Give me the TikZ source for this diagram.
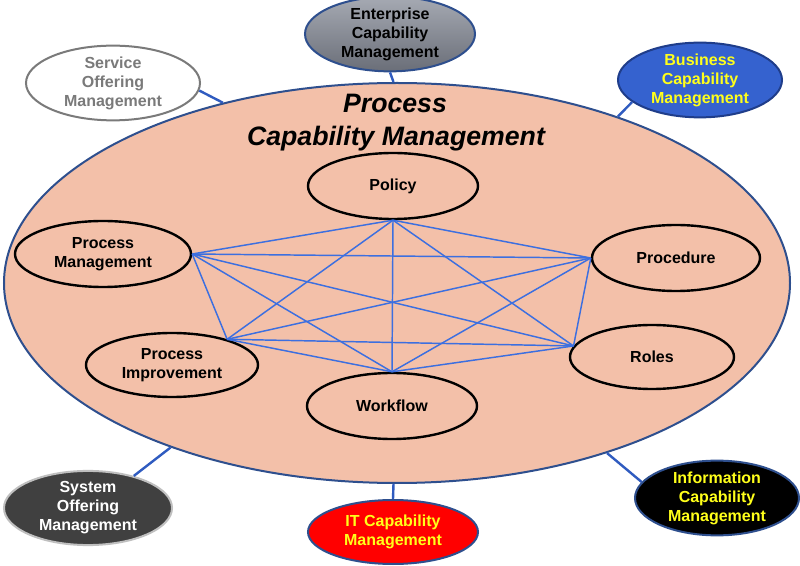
\documentclass[tikz,border=0pt]{standalone}
\usepackage{fontspec}
\setmainfont{Liberation Sans}
\usetikzlibrary{shapes.geometric}
\definecolor{bigfill}{HTML}{F3C0A9}
\definecolor{bigdraw}{HTML}{2E4F8E}
\definecolor{linkblue}{HTML}{3C6FE0}
\definecolor{connblue}{HTML}{2F5BC0}
\definecolor{entlight}{HTML}{A6AAB3}
\definecolor{entdark}{HTML}{6A6E78}
\definecolor{bizfill}{HTML}{3562CF}
\definecolor{bizdraw}{HTML}{1F3D8A}
\definecolor{txtyellow}{HTML}{FFFF1A}
\definecolor{sysfill}{HTML}{404040}
\definecolor{sysdraw}{HTML}{BFBFBF}
\definecolor{svcgray}{HTML}{7A7A7A}
\begin{document}
\begin{tikzpicture}[x=0.75pt,y=-0.75pt,
  oval/.style={ellipse, inner sep=0pt, align=center,
    font=\bfseries\fontsize{12}{14.2}\selectfont},
  sz/.style 2 args={minimum width=#1*1.5pt, minimum height=#2*1.5pt},
  inner/.style={oval, draw=black, line width=1.8pt},
  outer/.style={oval, line width=1.5pt},
  link/.style={draw=linkblue, line width=1.1pt},
  conn/.style={draw=connblue, line width=1.8pt},
  titletext/.style={font=\bfseries\itshape\fontsize{20}{24}\selectfont, inner sep=0pt}]
\useasboundingbox (0,0) rectangle (800,566);
\fill[white] (0,0) rectangle (800,566);

% big ellipse
\node[ellipse, inner sep=0pt, sz={393}{200}, fill=bigfill, draw=bigdraw, line width=1.5pt] (big) at (397,283) {};
\node[titletext, anchor=base] (t1) at (395,113) {Process};
\node[titletext, anchor=base] (t2) at (396,146) {Capability Management};

% outer ellipses
\node[outer, sz={85}{32}, top color=entlight, bottom color=entdark, draw=bigdraw] (ent) at (390,34) {Enterprise\\Capability\\Management};
\node[outer, sz={87}{32}, fill=white, draw=svcgray, text=svcgray] (svc) at (113,83) {Service\\Offering\\Management};
\node[outer, sz={82}{32}, fill=bizfill, draw=bizdraw, text=txtyellow] (biz) at (700,80) {Business\\Capability\\Management};
\node[outer, sz={84}{36}, fill=sysfill, draw=sysdraw, text=white] (sys) at (88,508) {System\\Offering\\Management};
\node[outer, sz={85}{32}, fill=red, draw=bigdraw, text=txtyellow] (it) at (393,532) {IT Capability\\Management};
\node[outer, sz={82}{33}, fill=black, draw=bigdraw, text=txtyellow] (info) at (717,498) {Information\\Capability\\Management};

% connectors outer -> big
\draw[conn] (ent.south) -- (big.91);
\draw[conn] (svc.355) -- (big.134.5);
\draw[conn] (biz.198) -- (big.37);
\draw[conn] (sys.35) -- (big.216);
\draw[conn] (it.north) -- (big.269);
\draw[conn] (info.168) -- (big.321);

% inner ellipses
\node[inner, sz={85}{33}] (pol) at (393,186) {Policy};
\node[inner, sz={88}{33}] (pm) at (103,254) {Process\\Management};
\node[inner, sz={84}{33}] (proc) at (676,258) {Procedure};
\node[inner, sz={86}{32}] (pi) at (172,365) {Process\\Improvement};
\node[inner, sz={82}{32}] (rol) at (652,357) {Roles};
\node[inner, sz={85}{33}] (wf) at (392,406) {Workflow};

% complete graph
\coordinate (cpol) at (pol.south);
\coordinate (cpm) at (pm.east);
\coordinate (cproc) at (proc.west);
\coordinate (cpi) at (pi.25);
\coordinate (crol) at (rol.172);
\coordinate (cwf) at (wf.north);
\draw[link] (cpol) -- (cpm);
\draw[link] (cpol) -- (cproc);
\draw[link] (cpol) -- (cpi);
\draw[link] (cpol) -- (crol);
\draw[link] (cpol) -- (cwf);
\draw[link] (cpm) -- (cproc);
\draw[link] (cpm) -- (cpi);
\draw[link] (cpm) -- (crol);
\draw[link] (cpm) -- (cwf);
\draw[link] (cproc) -- (cpi);
\draw[link] (cproc) -- (crol);
\draw[link] (cproc) -- (cwf);
\draw[link] (cpi) -- (crol);
\draw[link] (cpi) -- (cwf);
\draw[link] (crol) -- (cwf);
\end{tikzpicture}
\end{document}
